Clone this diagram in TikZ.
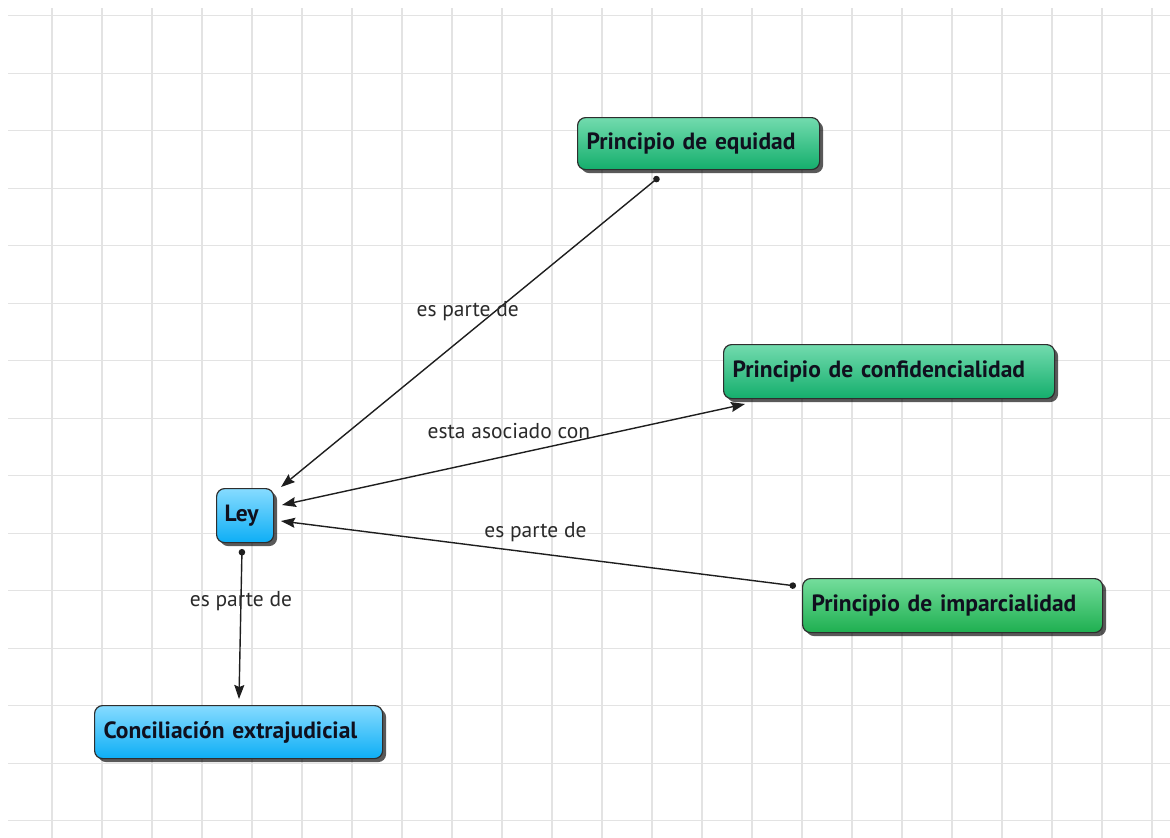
\documentclass[tikz,border=0pt]{standalone}
\usepackage{fontspec}
\setmainfont{PT Sans}
\usetikzlibrary{shadows,arrows.meta}
\definecolor{gridc}{HTML}{E3E3E3}
\definecolor{boxborder}{HTML}{2E2E2E}
\definecolor{boxtext}{HTML}{10101E}
\definecolor{tealtop}{HTML}{72DBAE}
\definecolor{tealbot}{HTML}{14AE6C}
\definecolor{greentop}{HTML}{74DD9C}
\definecolor{greenbot}{HTML}{1EAF50}
\definecolor{bluetop}{HTML}{86DBFF}
\definecolor{bluebot}{HTML}{0DAEF5}
\definecolor{linec}{HTML}{1E1E1E}
\definecolor{lblc}{HTML}{2A2A2A}
\begin{document}
\begin{tikzpicture}[x=1pt,y=-1pt,
  gridline/.style={draw=gridc,line width=1.3pt},
  box/.style={draw=boxborder,line width=1.2pt,rounded corners=8pt,anchor=north west,
    inner xsep=9pt,inner ysep=0pt,align=left,text=boxtext,
    font=\bfseries\fontsize{23.5}{26}\selectfont,
    drop shadow={shadow xshift=3.5pt,shadow yshift=-3.5pt,opacity=0.65,fill=black}},
  tealbox/.style={box,top color=tealtop,bottom color=tealbot},
  greenbox/.style={box,top color=greentop,bottom color=greenbot},
  bluebox/.style={box,top color=bluetop,bottom color=bluebot},
  conn/.style={draw=linec,line width=1.4pt},
  lbl/.style={text=lblc,font=\fontsize{21.5}{24}\selectfont,inner sep=0pt},
  dottip/.tip={Circle[length=6.5pt]},
  headtip/.tip={Stealth[length=14pt,width=10pt,inset=2pt]}
]
\useasboundingbox (0,0) rectangle (1170,838);
\fill[white] (0,0) rectangle (1170,838);
\foreach \k in {0,...,14} \draw[gridline] (8,{15.7+57.5*\k}) -- (1170,{15.7+57.5*\k});
\foreach \k in {0,...,22} \draw[gridline] ({52+50*\k},8) -- ({52+50*\k},838);

% nodes
\node[tealbox,minimum width=242pt,minimum height=52pt,text width=224pt] (eq) at (577,117) {Principio de equidad};
\node[tealbox,minimum width=331pt,minimum height=54pt,text width=313pt] (conf) at (723,344) {Principio de confidencialidad};
\node[greenbox,minimum width=300pt,minimum height=54pt,text width=282pt] (imp) at (802,578) {Principio de imparcialidad};
\node[bluebox,minimum width=57pt,minimum height=54pt,text width=41pt,inner xsep=8pt] (ley) at (216,488) {Ley};
\node[bluebox,minimum width=288pt,minimum height=53pt,text width=270pt] (conc) at (94,705) {Conciliación extrajudicial};

% connector end points
\coordinate (eqS) at (659,177);
\coordinate (leyA) at (281,487);
\coordinate (leyB) at (282,505);
\coordinate (confW) at (745,404);
\coordinate (impW) at (796,586);
\coordinate (leyC) at (281,521);
\coordinate (leyS) at (242,549);
\coordinate (concN) at (239,699);

% connectors
\draw[conn,{dottip}-{headtip}] (eqS) -- node[lbl,pos=0.432,xshift=-28pt] {es parte de} (leyA);
\draw[conn,{headtip}-{headtip}] (leyB) -- node[lbl,pos=0.49,yshift=24pt] {esta asociado con} (confW);
\draw[conn,{dottip}-{headtip}] (impW) -- node[lbl,pos=0.506,yshift=21pt] {es parte de} (leyC);
\draw[conn,{dottip}-{headtip}] (leyS) -- node[lbl,pos=0.35] {es parte de} (concN);
\end{tikzpicture}
\end{document}
